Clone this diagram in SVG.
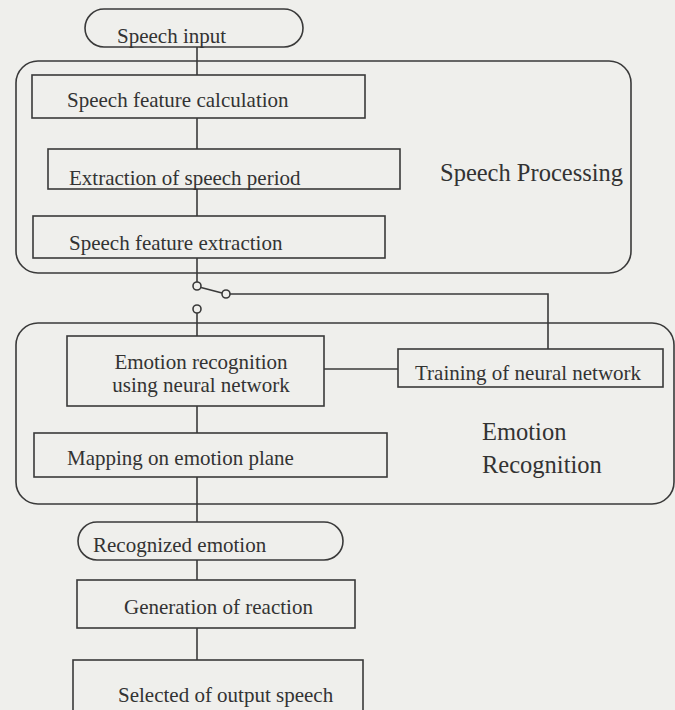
<svg xmlns="http://www.w3.org/2000/svg" width="675" height="710" viewBox="0 0 675 710">
<style>
.bg{fill:#efefec}
.box{fill:none;stroke:#3a3a3a;stroke-width:1.6}
.ln{fill:none;stroke:#3a3a3a;stroke-width:1.6}
.t{font-family:"Liberation Serif","Times New Roman",serif;font-size:21px;fill:#333}
.big{font-family:"Liberation Serif","Times New Roman",serif;font-size:24.5px;fill:#333}
.c{text-anchor:middle}
</style>
<rect class="bg" x="0" y="0" width="675" height="710"/>
<g id="group-speech-processing">
<rect class="box" x="16" y="61" width="615" height="212" rx="22"/>
<text class="big" x="440" y="181">Speech Processing</text>
</g>
<g id="group-emotion-recognition">
<rect class="box" x="16" y="323" width="658" height="181" rx="22"/>
<text class="big" x="482" y="440">Emotion</text>
<text class="big" x="482" y="473">Recognition</text>
</g>
<g id="connectors">
<line class="ln" x1="197" y1="47" x2="197" y2="75"/>
<line class="ln" x1="197" y1="118" x2="197" y2="149"/>
<line class="ln" x1="197" y1="189" x2="197" y2="216"/>
<line class="ln" x1="197" y1="258" x2="197" y2="282"/>
<line class="ln" x1="201" y1="287.5" x2="222" y2="293"/>
<polyline class="ln" points="230,294 548,294 548,349"/>
<line class="ln" x1="197" y1="313" x2="197" y2="336"/>
<line class="ln" x1="324" y1="369" x2="398" y2="369"/>
<line class="ln" x1="197" y1="406" x2="197" y2="433"/>
<line class="ln" x1="197" y1="477" x2="197" y2="522"/>
<line class="ln" x1="197" y1="560" x2="197" y2="580"/>
<line class="ln" x1="197" y1="628" x2="197" y2="660"/>
<circle class="ln" cx="197" cy="286" r="4"/>
<circle class="ln" cx="226" cy="294" r="4"/>
<circle class="ln" cx="197" cy="309" r="4"/>
</g>
<g id="node-speech-input">
<rect class="box" x="85" y="9" width="218" height="38" rx="19"/>
<text class="t" x="117" y="43">Speech input</text>
</g>
<g id="node-feature-calc">
<rect class="box" x="32" y="75" width="333" height="43"/>
<text class="t" x="67" y="107">Speech feature calculation</text>
</g>
<g id="node-extraction-period">
<rect class="box" x="48" y="149" width="352" height="40"/>
<text class="t" x="69" y="185">Extraction of speech period</text>
</g>
<g id="node-feature-extraction">
<rect class="box" x="33" y="216" width="352" height="42"/>
<text class="t" x="69" y="250">Speech feature extraction</text>
</g>
<g id="node-emotion-nn">
<rect class="box" x="67" y="336" width="257" height="70"/>
<text class="t c" x="201" y="369">Emotion recognition</text>
<text class="t c" x="201" y="392">using neural network</text>
</g>
<g id="node-training">
<rect class="box" x="398" y="349" width="265" height="38"/>
<text class="t" x="415" y="380">Training of neural network</text>
</g>
<g id="node-mapping">
<rect class="box" x="34" y="433" width="353" height="44"/>
<text class="t" x="67" y="465">Mapping on emotion plane</text>
</g>
<g id="node-recognized-emotion">
<rect class="box" x="78" y="522" width="265" height="38" rx="19"/>
<text class="t" x="93" y="552">Recognized emotion</text>
</g>
<g id="node-generation">
<rect class="box" x="77" y="580" width="278" height="48"/>
<text class="t" x="124" y="614">Generation of reaction</text>
</g>
<g id="node-selected">
<rect class="box" x="73" y="660" width="290" height="60"/>
<text class="t" x="118" y="702">Selected of output speech</text>
</g>
</svg>
